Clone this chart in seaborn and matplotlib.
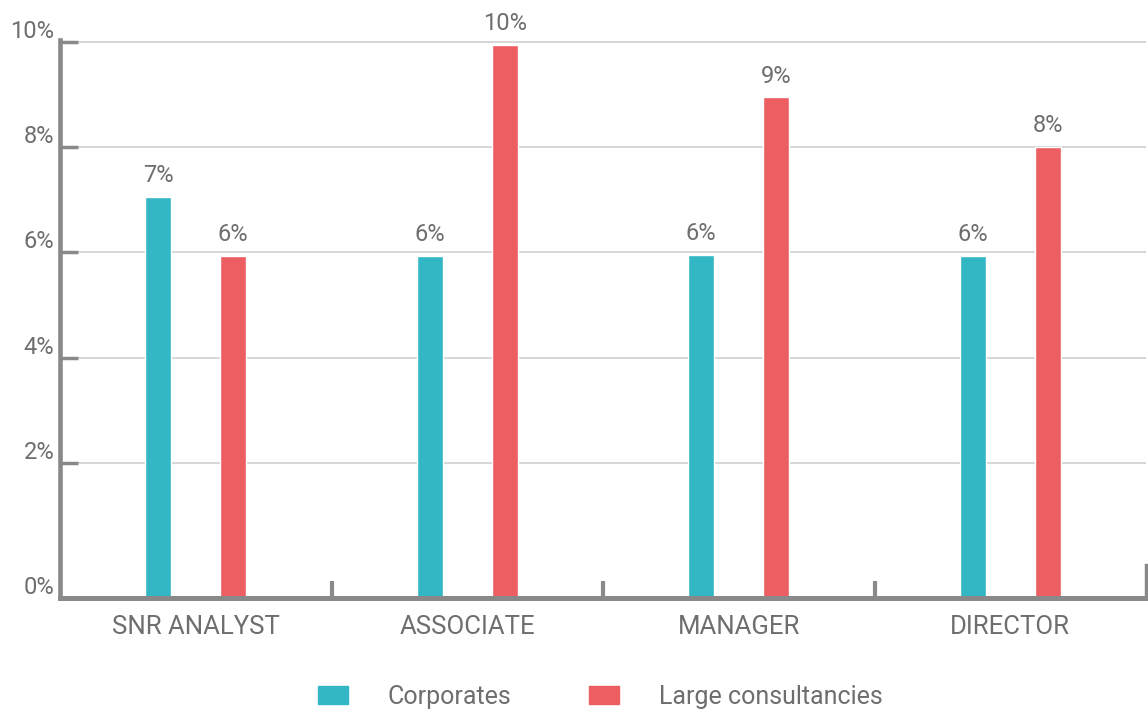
import matplotlib
matplotlib.use("Agg")
from matplotlib import pyplot as plt
import matplotlib.transforms as mtransforms
import numpy as np
import pandas as pd
import seaborn as sns

roles = ["SNR ANALYST", "ASSOCIATE", "MANAGER", "DIRECTOR"]
corporates = [7.06, 5.94, 5.96, 5.94]
large_consultancies = [5.94, 9.94, 8.94, 8.0]
groups = ["Corporates", "Large consultancies"]
ytick_vals = [2, 4, 6, 8, 10]

colors = {"Corporates": "#33B7C4", "Large consultancies": "#EC5E62"}
axis_grey = "#898989"
text_grey = "#6e6e6e"

df = pd.DataFrame({
    "role": roles * 2,
    "group": [groups[0]] * 4 + [groups[1]] * 4,
    "value": corporates + large_consultancies,
})

sns.set_style("white")
plt.rcParams["font.family"] = ["Roboto", "DejaVu Sans"]
plt.rcParams["font.weight"] = "normal"

fig = plt.figure(figsize=(11.48, 7.11), dpi=100)
ax = fig.add_axes([60 / 1148, (711 - 598) / 711, (1146 - 60) / 1148, (598 - 40) / 711])

ylo = -0.553
sns.barplot(data=df, x="role", y="value", hue="group", order=roles,
            hue_order=groups, palette=colors, width=0.552, gap=0.65,
            saturation=1, ax=ax, legend=False)

# bars in the original run down to the baseline, below the 0 line
for p in ax.patches:
    top = p.get_y() + p.get_height()
    p.set_y(ylo)
    p.set_height(top - ylo)

for c in ax.containers:
    ax.bar_label(c, labels=["%d%%" % round(v) for v in c.datavalues],
                 padding=7, fontsize=17, color=text_grey)

ax.set_xlim(-0.5, 3.5)
ax.set_ylim(ylo, 10.03)
ax.set_xlabel("")
ax.set_ylabel("")

ax.set_yticks([ylo] + ytick_vals)
ax.set_yticklabels(["0%"] + ["%d%%" % v for v in ytick_vals])
ax.tick_params(axis="y", left=True, direction="in", length=13, width=2.5,
               color=axis_grey, labelsize=17, labelcolor=text_grey, pad=4)
offset = mtransforms.ScaledTranslation(0, 13 / 100, fig.dpi_scale_trans)
for lbl in ax.get_yticklabels():
    lbl.set_transform(lbl.get_transform() + offset)

ax.tick_params(axis="x", length=0, labelsize=18.5, labelcolor=text_grey, pad=12)
ax.set_xticks([0.5, 1.5, 2.5], minor=True)
ax.tick_params(axis="x", which="minor", bottom=True, direction="in", length=12,
               width=3, color=axis_grey)

for y in ytick_vals:
    ax.axhline(y, color="#d0d0d0", lw=1.2, zorder=0)

ax.spines["top"].set_visible(False)
ax.spines["left"].set_color(axis_grey)
ax.spines["left"].set_linewidth(3.3)
ax.spines["bottom"].set_color(axis_grey)
ax.spines["bottom"].set_linewidth(3.6)
ax.spines["right"].set_color(axis_grey)
ax.spines["right"].set_linewidth(2.5)
ax.spines["right"].set_bounds(ylo, 0.07)

handles = [plt.Rectangle((0, 0), 1, 1, color=colors[g]) for g in groups]
leg = fig.legend(handles, groups, loc="center", bbox_to_anchor=(0.523, 0.02),
                 ncol=2, frameon=False, fontsize=18, handlelength=1.2,
                 handleheight=0.7, handletextpad=1.6, columnspacing=3.1)
for t in leg.get_texts():
    t.set_color(text_grey)

plt.savefig("out.png", dpi=100)
